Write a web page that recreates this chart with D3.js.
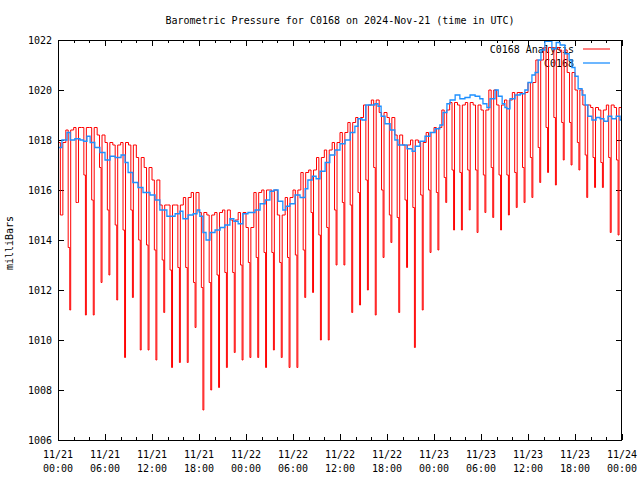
<!DOCTYPE html>
<html>
<head>
<meta charset="utf-8">
<script src="https://cdn.jsdelivr.net/npm/d3@7"></script>
<style>
  html, body { margin: 0; padding: 0; background: #fff; }
  svg { display: block; }
  text { font-family: "DejaVu Sans Mono", "Liberation Mono", monospace; font-size: 10px; fill: #000; }
</style>
</head>
<body>
<svg id="chart" width="640" height="480"></svg>
<script>
// ---------------- DATA ----------------
const title = "Barometric Pressure for C0168 on 2024-Nov-21 (time in UTC)";
const yLabel = "milliBars";
const seriesNames = ["C0168 Analysis", "C0168"];

// x tick labels (every 6 hours from 11/21 00:00 UTC)
const xTickHours = [0, 6, 12, 18, 24, 30, 36, 42, 48, 54, 60, 66, 72];
const xTickDates = ["11/21","11/21","11/21","11/21","11/22","11/22","11/22","11/22","11/23","11/23","11/23","11/23","11/24"];
const xTickTimes = ["00:00","06:00","12:00","18:00","00:00","06:00","12:00","18:00","00:00","06:00","12:00","18:00","00:00"];
const yTicks = [1006, 1008, 1010, 1012, 1014, 1016, 1018, 1020, 1022];

// C0168 Analysis: per hour, the plateau value, the intermediate value and the low spike
const redHigh = [1017.9,1018.4,1018.5,1018.5,1018.5,1018.2,1017.9,1017.8,1017.9,1017.8,1017.3,1016.9,
                 1016.4,1015.4,1015.4,1015.4,1015.7,1015.9,1015.1,1015.0,1015.1,1015.2,1014.8,1015.1,
                 1014.5,1015.9,1016.0,1016.0,1015.0,1015.7,1016.0,1016.7,1016.8,1017.3,1017.6,1017.9,
                 1018.3,1018.7,1018.9,1019.4,1019.6,1019.1,1018.9,1018.2,1017.8,1018.0,1017.9,1018.3,
                 1018.5,1019.2,1019.5,1019.4,1019.5,1019.4,1019.2,1020.0,1019.4,1019.6,1019.9,1019.9,
                 1020.3,1021.2,1021.7,1021.7,1021.6,1020.7,1020.0,1019.4,1019.3,1019.2,1019.4,1019.3];
const redMid  = [1015.0,1013.7,1015.5,1016.6,1015.6,1016.9,1015.2,1014.6,1014.4,1015.2,1014.0,1013.8,
                 1013.6,1013.2,1012.8,1012.9,1012.9,1012.3,1012.1,1012.3,1012.6,1012.7,1012.7,1013.0,
                 1013.1,1013.3,1013.5,1013.5,1013.1,1013.3,1013.4,1013.6,1015.1,1014.2,1014.5,1015.2,
                 1015.5,1015.4,1015.9,1016.4,1016.9,1016.0,1015.0,1014.9,1015.6,1015.3,1015.8,1016.0,
                 1015.9,1016.5,1016.8,1016.7,1016.8,1016.8,1016.6,1016.9,1016.6,1016.6,1016.7,1016.9,
                 1017.3,1017.7,1018.5,1018.9,1018.7,1018.7,1017.9,1017.4,1017.3,1017.1,1017.3,1017.2];
const redLow  = [1015.0,1011.2,1015.5,1011.0,1011.0,1012.3,1012.6,1011.6,1009.3,1011.7,1009.6,1009.6,
                 1009.2,1011.1,1008.9,1009.1,1009.1,1010.5,1007.2,1008.0,1008.1,1008.9,1009.5,1009.2,
                 1009.3,1009.3,1008.9,1009.6,1009.3,1008.9,1008.9,1011.7,1011.9,1010.0,1010.0,1013.0,
                 1013.0,1011.1,1011.4,1012.0,1011.0,1013.3,1013.9,1011.1,1012.9,1009.7,1011.2,1013.5,
                 1013.6,1015.5,1014.4,1014.4,1015.2,1014.3,1015.1,1014.9,1014.4,1015.0,1015.3,1015.5,
                 1015.7,1016.3,1016.7,1016.2,1017.2,1017.0,1016.8,1015.7,1016.1,1016.1,1014.3,1014.2];

// C0168 observations: hours since 11/21 00:00 UTC and pressure
const blueHours = [0,0.5,1.15,1.55,2.15,2.8,3.25,3.7,4.1,4.7,5.35,6.0,6.65,7.3,8.05,8.55,8.95,9.55,10.2,10.85,
  11.75,12.4,13.0,13.9,14.3,14.95,15.55,15.95,16.6,17.25,17.75,18.1,18.5,18.9,19.4,20.05,20.7,21.3,21.95,22.45,
  23.0,23.6,24.25,25.15,25.8,26.45,27.05,27.55,28.1,28.7,29.1,29.6,30.25,30.9,31.55,31.9,32.45,32.95,33.45,34.1,
  34.7,35.35,36.0,36.65,37.3,37.9,38.3,38.8,39.3,39.85,40.45,40.85,41.25,41.75,42.4,43.0,43.4,44.05,44.55,45.2,
  45.6,46.2,46.85,47.5,48.15,48.75,49.15,49.65,50.05,50.7,51.3,51.95,52.6,53.25,53.85,54.25,54.75,55.15,55.8,56.2,
  56.7,57.05,57.3,57.7,58.35,59.0,59.6,60.0,60.5,60.9,61.3,61.65,62.15,62.55,63.05,63.6,64.1,64.7,65.25,65.6,
  66.0,66.4,66.9,67.3,67.65,68.15,68.7,69.2,69.7,70.2,70.7,71.25,71.75,72];
const blueValues = [1017.7,1018.0,1018.3,1018.0,1018.05,1018.0,1017.95,1018.15,1017.9,1017.7,1017.5,1017.2,1017.35,1017.3,1017.4,1017.1,1016.7,1016.3,1016.1,1015.9,
  1015.8,1015.6,1015.2,1014.95,1014.95,1015.05,1015.15,1014.85,1015.0,1015.05,1015.2,1014.95,1014.3,1014.0,1014.3,1014.4,1014.5,1014.6,1014.85,1014.75,
  1014.65,1015.05,1015.1,1015.2,1015.45,1015.6,1015.95,1016.0,1015.55,1015.2,1015.35,1015.45,1015.8,1015.7,1016.05,1016.4,1016.55,1016.45,1016.75,1017.1,
  1017.4,1017.6,1017.85,1018.0,1018.3,1018.55,1018.85,1018.8,1019.4,1019.4,1019.45,1019.35,1018.95,1018.65,1018.4,1018.0,1017.8,1017.8,1017.65,1017.55,
  1017.75,1017.95,1018.15,1018.3,1018.45,1018.6,1019.1,1019.45,1019.6,1019.8,1019.65,1019.7,1019.8,1019.75,1019.65,1019.45,1019.3,1019.65,1020.0,1019.75,
  1019.45,1019.3,1019.25,1019.65,1019.8,1019.85,1020.0,1020.3,1020.6,1020.7,1021.2,1021.6,1021.95,1021.95,1021.65,1021.9,1021.8,1021.45,1021.2,1020.9,
  1020.55,1020.05,1019.8,1019.4,1018.95,1018.8,1018.9,1018.85,1018.75,1018.95,1018.85,1018.95,1018.8,1018.75];

// ---------------- CHART ----------------
const m = { left: 58, right: 622, top: 40, bottom: 440 };
const svg = d3.select("#chart");

const x = d3.scaleLinear().domain([0, 72]).range([m.left, m.right]);
const y = d3.scaleLinear().domain([1006, 1022]).range([m.bottom, m.top]);

// build Analysis series (stepped) from the hourly arrays
const redPts = [];
redHigh.forEach((h, k) => {
  redPts.push([k, h]);
  redPts.push([k + 0.3, redMid[k]]);
  redPts.push([k + 0.5, redLow[k]]);
  redPts.push([k + 0.62, h]);
});
redPts.push([72, redHigh[redHigh.length - 1]]);
const bluePts = blueHours.map((h, i) => [h, blueValues[i]]);

svg.append("defs").append("clipPath").attr("id", "clip")
  .append("rect").attr("x", m.left).attr("y", m.top)
  .attr("width", m.right - m.left).attr("height", m.bottom - m.top);

// title
svg.append("text").attr("x", 340).attr("y", 24).attr("text-anchor", "middle").text(title);

// y label
svg.append("text").attr("transform", "translate(13,243) rotate(-90)")
  .attr("text-anchor", "middle").text(yLabel);

// axes with ticks on all four sides (inward)
const g = svg.append("g").attr("shape-rendering", "crispEdges");
const xMinor = d3.range(0, 73, 2).filter(h => h % 6 !== 0);

const axB = d3.axisBottom(x).tickValues(xTickHours).tickSize(-6).tickFormat("");
const axBm = d3.axisBottom(x).tickValues(xMinor).tickSize(-3).tickFormat("");
const axT = d3.axisTop(x).tickValues(xTickHours).tickSize(-6).tickFormat("");
const axTm = d3.axisTop(x).tickValues(xMinor).tickSize(-3).tickFormat("");
const axL = d3.axisLeft(y).tickValues(yTicks).tickSize(-6).tickFormat("");
const axR = d3.axisRight(y).tickValues(yTicks).tickSize(-6).tickFormat("");

[[axB, `translate(0,${m.bottom})`], [axBm, `translate(0,${m.bottom})`],
 [axT, `translate(0,${m.top})`], [axTm, `translate(0,${m.top})`],
 [axL, `translate(${m.left},0)`], [axR, `translate(${m.right},0)`]].forEach(([ax, tr]) => {
  const a = g.append("g").attr("transform", tr).call(ax);
  a.select(".domain").remove();
  a.selectAll("line").attr("stroke", "#000");
});

// y tick labels
svg.append("g").selectAll("text").data(yTicks).join("text")
  .attr("x", m.left - 6).attr("y", d => y(d) + 4)
  .attr("text-anchor", "end").text(d => d);

// x tick labels (two lines)
const xl = svg.append("g").selectAll("g").data(xTickHours).join("g");
xl.append("text").attr("x", d => x(d)).attr("y", 458).attr("text-anchor", "middle")
  .text((d, i) => xTickDates[i]);
xl.append("text").attr("x", d => x(d)).attr("y", 472).attr("text-anchor", "middle")
  .text((d, i) => xTickTimes[i]);

// legend text (drawn beneath lines, like the reference)
svg.append("text").attr("x", 574).attr("y", 53).attr("text-anchor", "end").text(seriesNames[0]);
svg.append("text").attr("x", 574).attr("y", 67).attr("text-anchor", "end").text(seriesNames[1]);

// series
const line = d3.line().x(d => x(d[0])).y(d => y(d[1])).curve(d3.curveStepAfter);
const plot = svg.append("g").attr("clip-path", "url(#clip)");
plot.append("path").datum(redPts).attr("d", line)
  .attr("fill", "none").attr("stroke", "#ff0000").attr("stroke-width", 1);
plot.append("path").datum(bluePts).attr("d", line)
  .attr("fill", "none").attr("stroke", "#1e90ff").attr("stroke-width", 1.3);

// legend samples
svg.append("line").attr("x1", 583).attr("x2", 610).attr("y1", 49).attr("y2", 49)
  .attr("stroke", "#ff0000").attr("stroke-width", 1);
svg.append("line").attr("x1", 583).attr("x2", 610).attr("y1", 63).attr("y2", 63)
  .attr("stroke", "#1e90ff").attr("stroke-width", 1.3);

// frame
svg.append("rect").attr("x", m.left + 0.5).attr("y", m.top + 0.5)
  .attr("width", m.right - m.left - 1).attr("height", m.bottom - m.top)
  .attr("fill", "none").attr("stroke", "#000").attr("stroke-width", 1)
  .attr("shape-rendering", "crispEdges");
</script>
</body>
</html>
